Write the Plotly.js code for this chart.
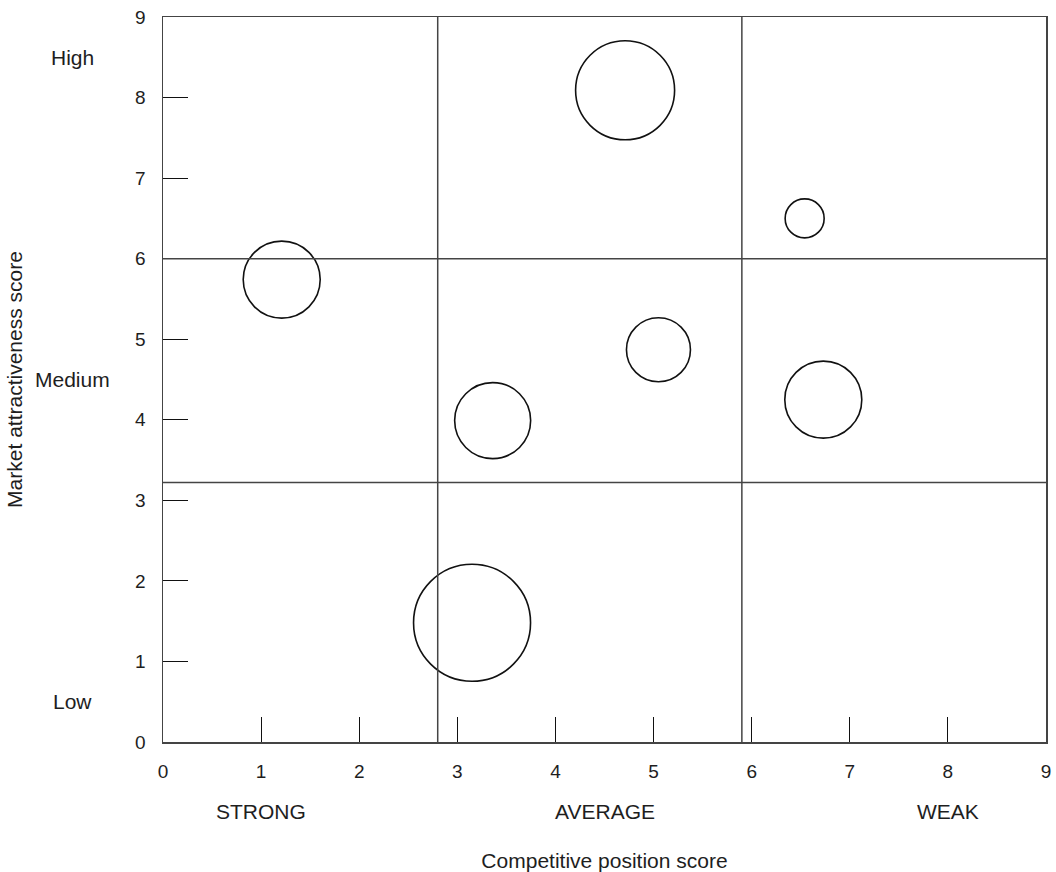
<!DOCTYPE html>
<html>
<head>
<meta charset="utf-8">
<script src="https://cdn.plot.ly/plotly-3.0.1.min.js"></script>
<style>html,body{margin:0;padding:0;background:#fff;}#chart{width:1056px;height:872px;}</style>
</head>
<body>
<div id="chart"></div>
<script>
// Business units: competitive position (x), market attractiveness (y), bubble diameter (px)
const competitivePosition = [1.21, 4.71, 6.54, 5.05, 3.36, 6.73, 3.15];
const marketAttractiveness = [5.74, 8.09, 6.50, 4.87, 3.99, 4.25, 1.48];
const bubbleDiameter = [77, 99, 39, 64, 76, 77, 117];

// Grid divisions
const positionBreaks = [2.8, 5.9];
const attractivenessBreaks = [3.22, 6.0];

// Category labels
const positionLabels = ["STRONG", "AVERAGE", "WEAK"];
const positionLabelAt = [1, 4.5, 8];
const attractLabels = ["High", "Medium", "Low"];
const attractLabelAt = [8.5, 4.5, 0.5];

const tickVals = [0, 1, 2, 3, 4, 5, 6, 7, 8, 9];
const tickText = ["0", "1", "2", "3", "4", "5", "6", "7", "8", "9"];

const FONT = "Liberation Sans, Arial, sans-serif";
const INK = "#1e1e1e";
const LINE = "#444";

const trace = {
  type: "scatter",
  mode: "markers",
  x: competitivePosition,
  y: marketAttractiveness,
  marker: {
    size: bubbleDiameter,
    sizemode: "diameter",
    color: "rgba(255,255,255,0)",
    opacity: 1,
    line: {color: "#111", width: 1.6}
  },
  hoverinfo: "x+y",
  showlegend: false
};

const shapes = [];
positionBreaks.forEach(v => shapes.push({
  type: "line", xref: "x", yref: "paper", x0: v, x1: v, y0: 0, y1: 1,
  line: {color: LINE, width: 1.5}
}));
attractivenessBreaks.forEach(v => shapes.push({
  type: "line", xref: "paper", yref: "y", x0: 0, x1: 1, y0: v, y1: v,
  line: {color: LINE, width: 1.5}
}));

const annotations = [];
positionLabels.forEach((t, i) => annotations.push({
  text: t, x: positionLabelAt[i], xref: "x", y: 0, yref: "paper",
  yshift: -69, yanchor: "middle", xanchor: "center", showarrow: false,
  font: {family: FONT, size: 21, color: INK}
}));
attractLabels.forEach((t, i) => annotations.push({
  text: t, x: 0, xref: "paper", xshift: -91, y: attractLabelAt[i], yref: "y",
  yanchor: "middle", xanchor: "center", showarrow: false,
  font: {family: FONT, size: 21, color: INK}
}));

const layout = {
  width: 1056, height: 872,
  margin: {l: 163, r: 10, t: 17, b: 130},
  paper_bgcolor: "#fff", plot_bgcolor: "#fff",
  font: {family: FONT, size: 19, color: INK},
  xaxis: {
    range: [0, 9], tickvals: tickVals, ticktext: tickText,
    ticks: "inside", ticklen: 25, tickwidth: 1, tickcolor: "#111",
    showline: true, mirror: true, linecolor: LINE, linewidth: 1.5,
    showgrid: false, zeroline: false, ticklabelstandoff: 12,
    tickfont: {family: FONT, size: 19, color: INK},
    title: {text: "Competitive position score", standoff: 73, font: {family: FONT, size: 21, color: INK}}
  },
  yaxis: {
    range: [0, 9], tickvals: tickVals, ticktext: tickText,
    ticks: "inside", ticklen: 25, tickwidth: 1, tickcolor: "#111",
    showline: true, mirror: true, linecolor: LINE, linewidth: 1.5,
    showgrid: false, zeroline: false, ticklabelstandoff: 12,
    tickfont: {family: FONT, size: 19, color: INK},
    title: {text: "Market attractiveness score", standoff: 107, font: {family: FONT, size: 21, color: INK}}
  },
  shapes: shapes,
  annotations: annotations
};

Plotly.newPlot("chart", [trace], layout, {displayModeBar: false, staticPlot: true});
</script>
</body>
</html>
